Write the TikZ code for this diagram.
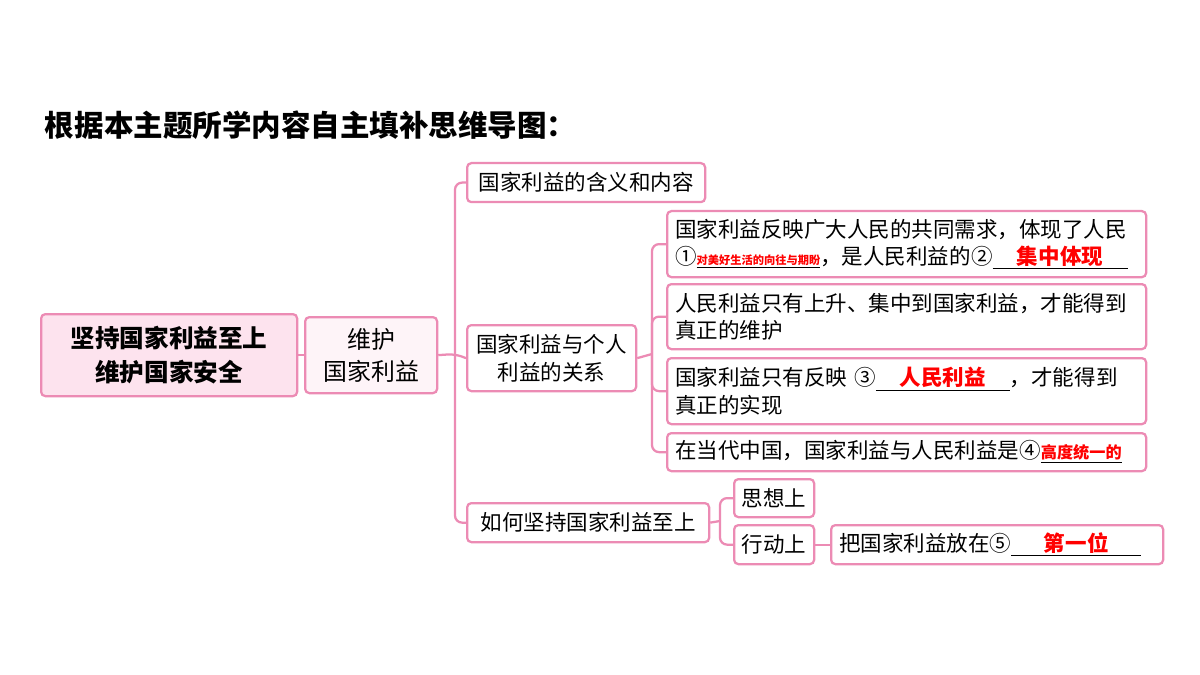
\documentclass[tikz,border=0pt]{standalone}
\usepackage{fontspec}
\setmainfont{Noto Sans CJK SC}
\usetikzlibrary{positioning}
\definecolor{pinkline}{HTML}{EC8BB4}
\definecolor{pinkfill}{HTML}{FDE3EE}
\newlength\pxl
\setlength\pxl{0.025cm}
\newcommand{\blank}[2]{\underline{\makebox[#1\pxl]{\textcolor{red}{\bfseries #2}}}}
\tikzset{
  box/.style={draw=pinkline, line width=1.6pt, rounded corners=3pt, fill=white,
    anchor=north west, inner sep=4pt, font=\fontsize{15.3}{19.5}\selectfont},
  link/.style={draw=pinkline, line width=1.6pt, rounded corners=5pt},
}
\begin{document}
\begin{tikzpicture}[x=\pxl, y=-\pxl]
			\useasboundingbox[fill=white] (0, 0) rectangle (1200, 675);
			
			\node[anchor=west, font=\fontsize{21}{24}\selectfont\bfseries] (title) at (40, 125) {根据本主题所学内容自主填补思维导图：};
			
			% root and first level
			\node[box, fill=pinkfill, minimum width=256\pxl, minimum height=82\pxl, align=center,
				font=\fontsize{17.5}{24}\selectfont\bfseries] (root) at (40, 313) {坚持国家利益至上\\维护国家安全};
			\node[box, fill=pinkfill!40, minimum width=132\pxl, minimum height=76\pxl, align=center,
				font=\fontsize{17}{23}\selectfont] (wh) at (304, 316) {维护\\国家利益};
			
			% second level
			\node[box, minimum width=238\pxl, minimum height=39\pxl] (mean) at (466, 162) {国家利益的含义和内容};
			\node[box, minimum width=169\pxl, minimum height=66\pxl, align=center] (rel) at (466, 324) {国家利益与个人\\利益的关系};
			\node[box, minimum width=242\pxl, minimum height=39\pxl] (how) at (466, 502) {如何坚持国家利益至上};
			
			% relation details
			\node[box, minimum width=479\pxl, minimum height=66\pxl, text width=463\pxl, align=left] (r1) at (666, 210)
				{国家利益反映广大人民的共同需求，体现了人民\\①\underline{\textcolor{red}{\fontsize{8}{9}\selectfont\bfseries 对美好生活的向往与期盼}}，是人民利益的②\blank{135}{集中体现}};
			\node[box, minimum width=479\pxl, minimum height=65\pxl, text width=463\pxl, align=left] (r2) at (666, 283)
				{人民利益只有上升、集中到国家利益，才能得到\\真正的维护};
			\node[box, minimum width=479\pxl, minimum height=66\pxl, text width=463\pxl, align=left] (r3) at (666, 357)
				{国家利益只有反映 ③\blank{134}{人民利益}，才能得到\\真正的实现};
			\node[box, minimum width=479\pxl, minimum height=38\pxl, text width=463\pxl, align=left] (r4) at (666, 432)
				{在当代中国，国家利益与人民利益是④\underline{\textcolor{red}{\fontsize{11.5}{13}\selectfont\bfseries 高度统一的}}};
			
			% how details
			\node[box, minimum width=80\pxl, minimum height=38\pxl] (mind) at (733, 478) {思想上};
			\node[box, minimum width=80\pxl, minimum height=39\pxl] (act) at (733, 524) {行动上};
			\node[box, minimum width=332\pxl, minimum height=39\pxl, text width=316\pxl, align=left] (first) at (830, 524)
				{把国家利益放在⑤\blank{130}{第一位}};
			
			% connectors
			\draw[link] (root.east) -- (wh.west);
			\coordinate (j1) at (455, 354);
			\draw[link] (wh.east) -- (j1) -- (rel.west);
			\draw[link] (mean.west) -| (j1) |- (how.west);
			\coordinate (j2) at (652, 354);
			\draw[link] (rel.east) -- (j2);
			\draw[link] (r1.west) -| (j2) |- (r4.west);
			\draw[link] (r2.west) -| (j2) |- (r3.west);
			\coordinate (j3) at (720, 521);
			\draw[link] (how.east) -- (j3);
			\draw[link] (mind.west) -| (j3) |- (act.west);
			\draw[link] (act.east) -- (first.west);
		\end{tikzpicture}
\end{document}
